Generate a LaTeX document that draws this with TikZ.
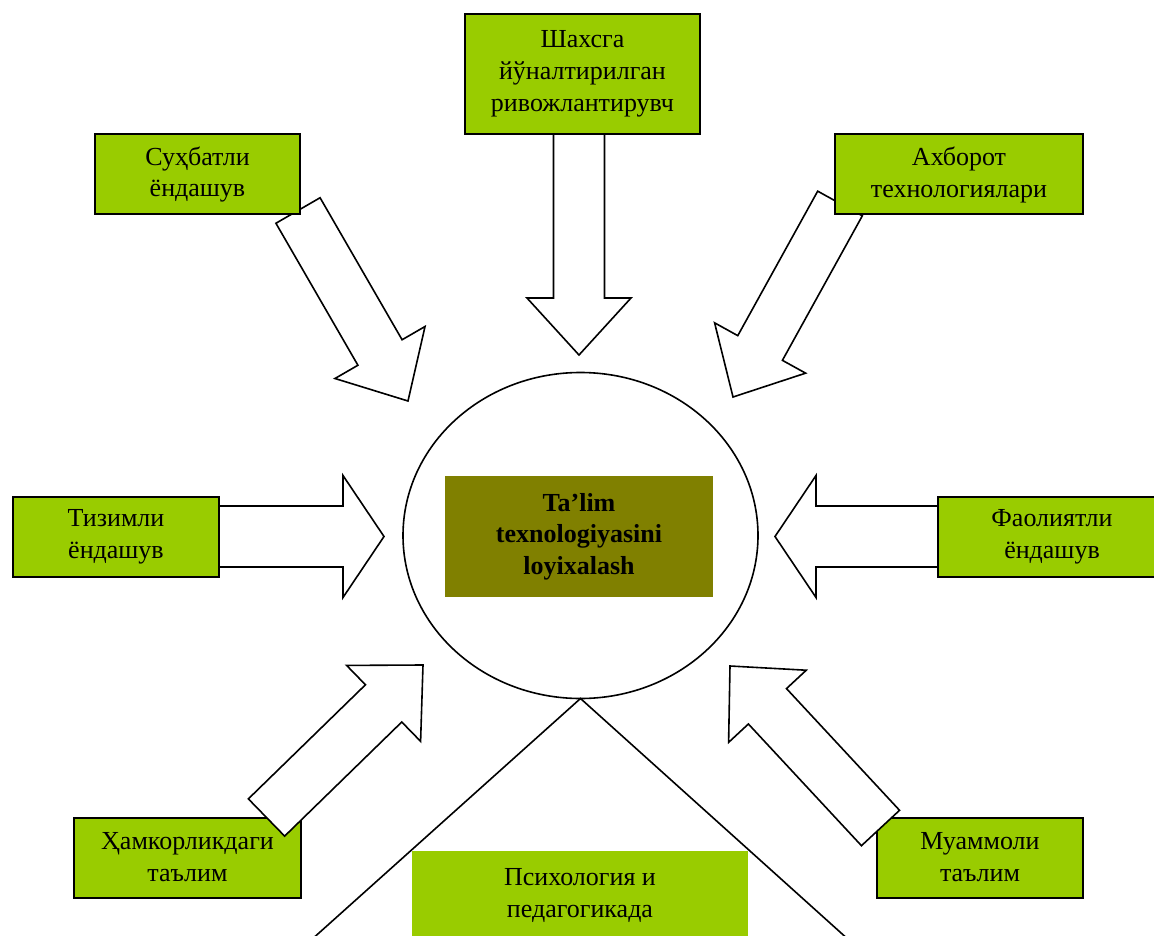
\documentclass[tikz,border=0pt]{standalone}
\usepackage{fontspec}
\setmainfont{Liberation Serif}
\usepackage{xcolor}
\usetikzlibrary{calc,shapes.geometric,backgrounds}
\definecolor{leaf}{HTML}{99CC00}
\definecolor{olivebox}{HTML}{808000}
\newcommand{\blockarr}[5]{%
    \path ($(#2)!#5!(#1)$) coordinate (hb);
    \draw[fat] ($(#1)!#3!90:(#2)$) -- ($(hb)!#3!90:(#2)$) -- ($(hb)!#4!90:(#2)$) -- (#2)
    -- ($(hb)!#4!-90:(#2)$) -- ($(hb)!#3!-90:(#2)$) -- ($(#1)!#3!-90:(#2)$) -- cycle;}

\begin{document}
\begin{tikzpicture}[x=1pt,y=-1pt,
    every node/.style={outer sep=0pt,inner sep=0pt,font=\fontsize{26}{32}\selectfont},
    appr/.style={draw,line width=2pt,fill=leaf,minimum height=80pt,align=center},
    fat/.style={draw,line width=1.6pt,fill=white,line join=miter},
    ray/.style={line width=1.6pt}]

    \useasboundingbox (0,0) rectangle (1154,936);
    \clip (0,0) rectangle (1154,936);

    \node[appr,minimum width=235pt,minimum height=120pt] (shah) at (582.5,74) {Шахсга\\йўналтирилган\\ривожлантирувч};
    \node[appr,minimum width=205pt] (suh) at (197.5,174.5) {Суҳбатли\\ёндашув};
    \node[appr,minimum width=248pt] (akh) at (959,174.5) {Ахборот\\технологиялари};
    \node[appr,minimum width=206pt] (tiz) at (116,536.5) {Тизимли\\ёндашув};
    \node[appr,minimum width=228pt] (fao) at (1052,536.5) {Фаолиятли\\ёндашув};
    \node[appr,minimum width=227pt] (ham) at (187.5,857.5) {Ҳамкорликдаги\\таълим};
    \node[appr,minimum width=206pt] (muam) at (980,857.5) {Муаммоли\\таълим};

    \node[draw,ray,ellipse,minimum width=355pt,minimum height=326pt] (core) at (580.5,535.5) {};
    \node[fill=olivebox,minimum width=268pt,minimum height=121pt,align=center,font=\fontsize{26}{31.5}\selectfont\bfseries]
      (talim) at (579,536.5) {Ta’lim\\texnologiyasini\\loyixalash};

    \coordinate (pl) at (300,950);
    \coordinate (pr) at (860,950);
    \draw[ray] (pl) -- (core.south) -- (pr);
    \node[fill=leaf,minimum width=336pt,minimum height=88pt,align=center] (psy) at (580,895) {Психология и\\педагогикада};

    \coordinate (tipA) at (579,355);
    \coordinate (tailA) at (tipA |- shah.south);
    \coordinate (tipB) at (384,536.5);
    \coordinate (tipC) at (775,536.5);
    \coordinate (tailD) at ([xshift=-2pt,yshift=4pt]suh.south east);
    \coordinate (tipD) at (408,401);
    \coordinate (tailE) at ([xshift=5pt,yshift=11pt]akh.south west);
    \coordinate (tipE) at (733,397);
    \coordinate (tailF) at ([xshift=-34.5pt]ham.north east);
    \coordinate (tipF) at (423,665);
    \coordinate (tailG) at ([xshift=3.5pt,yshift=-10.5pt]muam.north west);
    \coordinate (tipG) at (730,666);

    \blockarr{tailA}{tipA}{25.5pt}{52pt}{57pt}
    \foreach \T/\P in {tiz.east/tipB,fao.west/tipC}
    {
      \blockarr{\T}{\P}{30.5pt}{61pt}{41pt}
    }
    \begin{pgfonlayer}{background}
      \foreach \X in {D,E}
      {
        \blockarr{tail\X}{tip\X}{25.5pt}{52pt}{56pt}
      }
    \end{pgfonlayer}
    \foreach \X in {F,G}
    {
      \blockarr{tail\X}{tip\X}{26pt}{53pt}{55pt}
    }
\end{tikzpicture}
\end{document}
